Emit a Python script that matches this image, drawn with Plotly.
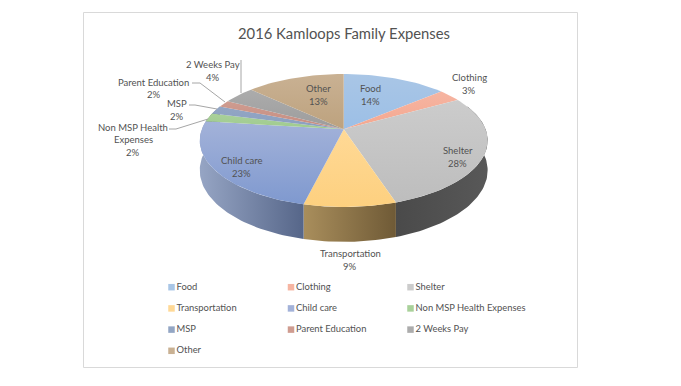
import math
import plotly.graph_objects as go

title = "2016 Kamloops Family Expenses"
categories = ["Food", "Clothing", "Shelter", "Transportation", "Child care",
              "Non MSP Health Expenses", "MSP", "Parent Education", "2 Weeks Pay", "Other"]
values = [13.8, 3.0, 28.2, 8.8, 23.2, 2.1, 2.0, 1.7, 4.2, 13.0]
face_top = ["#a9c6e6", "#f6b5a2", "#cccccc", "#ffd996", "#a3b2d9", "#a9d19a", "#93a6c4", "#cf9c90", "#acacac", "#c9b193"]
face_bot = ["#9cbfe6", "#f4a78f", "#bdbdbd", "#fdd07f", "#7f99cf", "#9fca8e", "#8a9fc0", "#c58c80", "#9c9c9c", "#bda27e"]
wall_l = ["#7f98b8", "#c08a78", "#4a4a4a", "#a98e5c", "#96a5c4", "#7f9f72", "#74849c", "#a07468", "#7c7c7c", "#98805f"]
wall_r = ["#6b83a0", "#a87666", "#585858", "#6f5a36", "#566689", "#6f8f62", "#64748c", "#906458", "#6c6c6c", "#88704f"]

label_pos = {
    "Food": (370, 88.5), "Clothing": (469, 77.5), "Shelter": (457.5, 150.5),
    "Transportation": (350, 253.5), "Child care": (241, 160.5),
    "Non MSP Health Expenses": (133, 127), "MSP": (177, 103.5),
    "Parent Education": (153.5, 82), "2 Weeks Pay": (213, 64.5), "Other": (318.5, 88.5),
}
leaders = {
    "Non MSP Health Expenses": ([169, 176, 208], [129, 129, 119]),
    "MSP": ([189, 195, 217], [105, 105, 109]),
    "Parent Education": ([192, 200, 225], [83, 83, 102]),
    "2 Weeks Pay": ([241, 241], [60, 93]),
}
legend_cols = [171.5, 291, 410.5]
legend_rows = [287.2, 308.4, 329.6, 350.8]

FONT = "Lato"
TXT = "#525252"
CX, CY, A, B, K, H = 343.7, 129.3, 141.9, 64.6, 0.1684, 29.0


def top_pt(deg):
    t = math.radians(deg)
    X, Y = math.sin(t), math.cos(t)
    d = 1 + K * Y
    return CX + A * X / d, CY - B * Y / d


def bot_pt(deg):
    x, y = top_pt(deg)
    return x, y + H / (1 + K * math.cos(math.radians(deg)))


def arc(a0, a1, fn):
    n = max(2, int(abs(a1 - a0) / 1.5) + 1)
    pts = [fn(a0 + (a1 - a0) * i / n) for i in range(n + 1)]
    return [p[0] for p in pts], [p[1] for p in pts]


fig = go.Figure()
total = sum(values)
start = 0.0
spans = []
for v in values:
    end = start + v / total * 360
    spans.append((start, end))
    start = end

# side walls
for i, (a0, a1) in enumerate(spans):
    lo, hi = max(a0, 68), min(a1, 292)
    if lo >= hi:
        continue
    tx, ty = arc(lo, hi, top_pt)
    bx, by = arc(lo, hi, bot_pt)
    fig.add_trace(go.Scatter(
        x=tx + bx[::-1] + tx[:1], y=ty + by[::-1] + ty[:1], mode="lines", fill="toself",
        line=dict(width=0), showlegend=False, hoverinfo="skip",
        fillgradient=dict(type="horizontal", colorscale=[[0, wall_l[i]], [1, wall_r[i]]]),
    ))

# top faces
for i, (a0, a1) in enumerate(spans):
    ax, ay = arc(a0, a1, top_pt)
    fig.add_trace(go.Scatter(
        x=[CX] + ax + [CX], y=[CY] + ay + [CY], mode="lines", fill="toself",
        line=dict(width=0), showlegend=False, name=categories[i], hoverinfo="skip",
        fillgradient=dict(type="vertical", colorscale=[[0, face_bot[i]], [1, face_top[i]]]),
    ))

# leader lines
for name, (lx, ly) in leaders.items():
    fig.add_trace(go.Scatter(x=lx, y=ly, mode="lines", line=dict(color="#a6a6a6", width=1),
                             showlegend=False, hoverinfo="skip"))

# legend
for i, name in enumerate(categories):
    c = legend_cols[i % 3]
    r = legend_rows[i // 3]
    fig.add_trace(go.Scatter(
        x=[c], y=[r], mode="markers+text", text=[name], textposition="middle right",
        marker=dict(symbol="square", size=6.5, color=face_top[i], line=dict(width=0)),
        textfont=dict(family=FONT, size=9.4, color=TXT), showlegend=False, hoverinfo="skip",
    ))

# data labels
annotations = []
for name, v in zip(categories, values):
    x, y = label_pos[name]
    lines = ["Non MSP Health", "Expenses"] if name.startswith("Non") else [name]
    lines = lines + [f"{round(v / total * 100)}%"]
    for j, ln in enumerate(lines):
        annotations.append(dict(x=x, y=y + j * 12.5, text=ln, showarrow=False, xanchor="center", yanchor="middle",
                                font=dict(family=FONT, size=9.5, color=TXT)))
annotations.append(dict(x=344, y=32.5, text=title, showarrow=False, xanchor="center", yanchor="middle",
                        font=dict(family=FONT, size=14.8, color=TXT)))

fig.update_layout(
    width=681, height=386, margin=dict(l=0, r=0, t=0, b=0),
    paper_bgcolor="white", plot_bgcolor="white", showlegend=False,
    xaxis=dict(range=[0, 681], visible=False, fixedrange=True),
    yaxis=dict(range=[386, 0], visible=False, fixedrange=True),
    annotations=annotations,
    shapes=[dict(type="rect", x0=83.5, x1=577.5, y0=12.5, y1=367.5, line=dict(color="#d9d9d9", width=1), layer="below")],
)
fig.write_html("out.html", config={"displayModeBar": False},
               post_script="document.body.style.margin='0';document.documentElement.style.overflow='hidden';")
